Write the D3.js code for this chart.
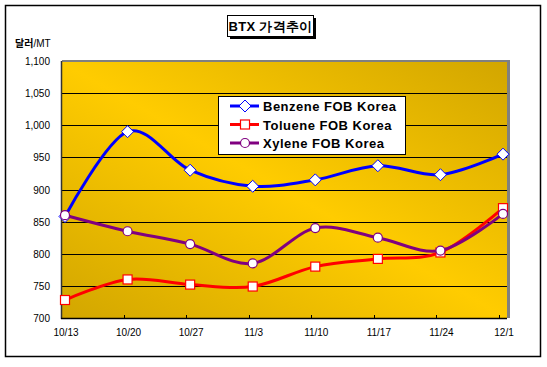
<!DOCTYPE html>
<html lang="ko">
<head>
    <meta charset="UTF-8" />
    <title>BTX 가격추이</title>
    <script src="https://d3js.org/d3.v7.js"></script>
    <style>
        body { margin: 0; background: #fff; }
        text { font-family: "Liberation Sans", Arial, sans-serif; }
    </style>
</head>
<body>
    <script>
        var w = 547;
        var h = 367;

        // chart data
        var dates = ["10/13", "10/20", "10/27", "11/3", "11/10", "11/17", "11/24", "12/1"];
        var benzene = [858, 990, 930, 905, 915, 937, 923, 955];
        var toluene = [728, 760, 752, 749, 780, 792, 802, 871];
        var xylene = [860, 835, 815, 785, 840, 825, 805, 862];
        var yTicks = [700, 750, 800, 850, 900, 950, 1000, 1050, 1100];
        var seriesNames = ["Benzene FOB Korea", "Toluene FOB Korea", "Xylene FOB Korea"];

        var series = [
            { name: seriesNames[0], values: benzene, color: "#0000ff", marker: "diamond" },
            { name: seriesNames[1], values: toluene, color: "#ff0000", marker: "square" },
            { name: seriesNames[2], values: xylene, color: "#800080", marker: "circle" }
        ];

        // plot area box
        var pLeft = 61, pRight = 507, pTop = 61, pBottom = 318;

        var svg = d3.select("body")
            .append("svg")
            .attr("width", w)
            .attr("height", h);

        var defs = svg.append("defs");
        var grad = defs.append("linearGradient")
            .attr("id", "gold")
            .attr("x1", "100%").attr("y1", "0%")
            .attr("x2", "0%").attr("y2", "100%");
        grad.append("stop").attr("offset", "0%").attr("stop-color", "#d2a600");
        grad.append("stop").attr("offset", "50%").attr("stop-color", "#ffcc00");
        grad.append("stop").attr("offset", "100%").attr("stop-color", "#d2a600");

        // outer frame
        svg.append("rect")
            .attr("x", 5.5).attr("y", 5.5)
            .attr("width", 535).attr("height", 351)
            .attr("fill", "#fff")
            .attr("stroke", "#000")
            .attr("stroke-width", 1.5);

        var xScale = d3.scalePoint()
            .domain(dates)
            .range([65, 503]);

        var yScale = d3.scaleLinear()
            .domain([700, 1100])
            .range([pBottom, pTop]);

        // plot area with gray shadow on top/right
        svg.append("rect")
            .attr("x", pLeft + 1).attr("y", pTop - 1)
            .attr("width", pRight - pLeft + 2).attr("height", pBottom - pTop + 1)
            .attr("fill", "#808080");
        svg.append("rect")
            .attr("x", pLeft).attr("y", pTop + 1)
            .attr("width", pRight - pLeft).attr("height", pBottom - pTop - 1)
            .attr("fill", "url(#gold)");

        // gridlines
        svg.selectAll(".grid")
            .data(yTicks.slice(1, -1))
            .enter()
            .append("line")
            .attr("x1", pLeft)
            .attr("x2", pRight)
            .attr("y1", function (d) { return Math.round(yScale(d)) + 0.5; })
            .attr("y2", function (d) { return Math.round(yScale(d)) + 0.5; })
            .attr("stroke", "#000")
            .attr("stroke-width", 1);

        // axes lines
        svg.append("line")
            .attr("x1", pLeft + 0.5).attr("x2", pLeft + 0.5)
            .attr("y1", pTop).attr("y2", pBottom + 1)
            .attr("stroke", "#333").attr("stroke-width", 1.5);
        svg.append("line")
            .attr("x1", pLeft).attr("x2", pRight)
            .attr("y1", pBottom + 0.5).attr("y2", pBottom + 0.5)
            .attr("stroke", "#000").attr("stroke-width", 1.5);

        // x ticks (inside)
        svg.selectAll(".xtick")
            .data(dates.slice(1))
            .enter()
            .append("line")
            .attr("x1", function (d) { return Math.round(xScale(d)) - 3.5; })
            .attr("x2", function (d) { return Math.round(xScale(d)) - 3.5; })
            .attr("y1", pBottom - 3)
            .attr("y2", pBottom)
            .attr("stroke", "#000");

        // y tick labels
        svg.selectAll(".ylabel")
            .data(yTicks)
            .enter()
            .append("text")
            .attr("x", 50)
            .attr("y", function (d) { return yScale(d) + 4; })
            .attr("text-anchor", "end")
            .attr("font-size", 10)
            .text(d3.format(","));

        // x labels
        svg.selectAll(".xlabel")
            .data(dates)
            .enter()
            .append("text")
            .attr("x", function (d) { return xScale(d) + 1; })
            .attr("y", 336)
            .attr("text-anchor", "middle")
            .attr("font-size", 10)
            .text(function (d) { return d; });

        // unit label
        var unit = svg.append("text")
            .attr("x", 15)
            .attr("y", 47)
            .attr("font-size", 10);
        unit.append("tspan")
            .attr("font-family", "'Noto Sans CJK KR', sans-serif")
            .attr("font-weight", "bold")
            .text("달러");
        unit.append("tspan").text("/MT");

        // title box
        svg.append("rect")
            .attr("x", 230).attr("y", 18)
            .attr("width", 86).attr("height", 21)
            .attr("fill", "#000");
        svg.append("rect")
            .attr("x", 227.5).attr("y", 15.5)
            .attr("width", 86).attr("height", 21)
            .attr("fill", "#fff")
            .attr("stroke", "#000");
        svg.append("text")
            .attr("x", 270.5)
            .attr("y", 31)
            .attr("text-anchor", "middle")
            .attr("font-size", 13)
            .attr("font-weight", "bold")
            .attr("letter-spacing", 0.3)
            .attr("font-family", "'Noto Sans CJK KR', sans-serif")
            .text("BTX 가격추이");

        var line = d3.line()
            .x(function (d, i) { return xScale(dates[i]); })
            .y(function (d) { return yScale(d); })
            .curve(d3.curveCardinal.tension(0));

        function drawMarker(g, type, color, x, y) {
            if (type == "diamond") {
                g.append("path")
                    .attr("d", "M" + x + "," + (y - 6) + "L" + (x + 6) + "," + y + "L" + x + "," + (y + 6) + "L" + (x - 6) + "," + y + "Z")
                    .attr("fill", "#fff").attr("stroke", color).attr("stroke-width", 1);
            } else if (type == "square") {
                g.append("rect")
                    .attr("x", x - 4.5).attr("y", y - 4.5)
                    .attr("width", 9).attr("height", 9)
                    .attr("fill", "#fff").attr("stroke", color).attr("stroke-width", 1.2);
            } else {
                g.append("circle")
                    .attr("cx", x).attr("cy", y).attr("r", 4.5)
                    .attr("fill", "#fff").attr("stroke", color).attr("stroke-width", 1.2);
            }
        }

        series.forEach(function (s) {
            var g = svg.append("g");
            g.append("path")
                .attr("d", line(s.values))
                .attr("fill", "none")
                .attr("stroke", s.color)
                .attr("stroke-width", 3);
            s.values.forEach(function (v, i) {
                drawMarker(g, s.marker, s.color, xScale(dates[i]), yScale(v));
            });
        });

        // legend
        var lg = svg.append("g");
        lg.append("rect")
            .attr("x", 218.5).attr("y", 96.5)
            .attr("width", 187).attr("height", 58)
            .attr("fill", "#fff")
            .attr("stroke", "#000");
        series.forEach(function (s, i) {
            var ly = 106 + i * 18.5;
            lg.append("line")
                .attr("x1", 230).attr("x2", 259)
                .attr("y1", ly).attr("y2", ly)
                .attr("stroke", s.color).attr("stroke-width", 3);
            drawMarker(lg, s.marker, s.color, 245, ly);
            lg.append("text")
                .attr("x", 263)
                .attr("y", ly + 5)
                .attr("font-size", 13)
                .attr("font-weight", "bold")
                .attr("letter-spacing", 0.5)
                .text(s.name);
        });
    </script>
</body>
</html>
